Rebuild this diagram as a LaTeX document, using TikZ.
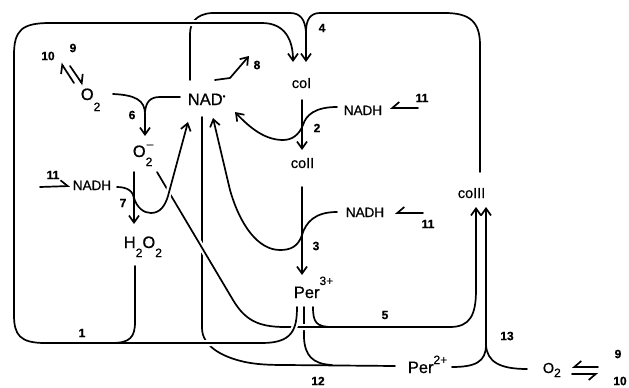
\documentclass[tikz,border=0pt]{standalone}
\usepackage{fontspec}
\setmainfont{Liberation Sans}[FakeBold=0.7]
\usetikzlibrary{arrows.meta}
\newcommand\dsub[2][-9pt]{\raisebox{#1}{\fontsize{12}{12}\selectfont #2}}
\newcommand\dsup[2][10pt]{\raisebox{#1}{\fontsize{12}{12}\selectfont #2}}
\begin{document}
\begin{tikzpicture}[x=1pt,y=-1pt,line width=1.7pt,line cap=round,line join=round,
  big/.style={inner sep=0pt,anchor=base west,font=\fontsize{16.5}{16}\selectfont},
  mid/.style={inner sep=0pt,anchor=base west,font=\fontsize{14.5}{14}\selectfont},
  sml/.style={inner sep=0pt,anchor=base west,font=\fontsize{13.5}{13}\selectfont},
  num/.style={inner sep=0pt,font=\fontsize{12}{12}\selectfont\bfseries},
  tip/.style={-{Straight Barb[length=7pt,width=10pt]}},
  hl/.style={-{Straight Barb[left,length=7pt,width=12pt]}},
  hr/.style={-{Straight Barb[right,length=7pt,width=12pt]}},
  gap/.style={preaction={draw,white,line width=6pt,arrows=-}}]
\useasboundingbox (0,0) rectangle (629,388);
% species
\node[mid] (coI) at (291,88) {coI};
\node[mid] (coII) at (290,168) {coII};
\node[mid] (coIII) at (457,198) {coIII};
\node[big] (nad) at (187,105) {NAD\raisebox{6pt}{\fontsize{8}{8}\selectfont •}};
\node[big] (o2a) at (80,100) {O\dsub[-11pt]{2}};
\node[big] (o2m) at (132,157) {O\rlap{\dsup[9pt]{\kern1pt –}}\dsub[-9pt]{2}};
\node[sml] (nadh1) at (72,190) {NADH};
\node[sml] (nadh2) at (343,115) {NADH};
\node[sml] (nadh3) at (345,217) {NADH};
\node[big] (h2o2) at (123,248) {H\dsub{2}O\dsub{2}};
\node[big] (per3) at (293,298) {Per\dsup[13pt]{3+}};
\node[big] (per2) at (407,373) {Per\dsup[9pt]{2+}};
\node[mid] (o2b) at (542,373) {O\dsub[-4pt]{2}};
% labels
\node[num] (l1) at (82,333) {1};
\node[num] (l2) at (317,128) {2};
\node[num] (l3) at (316,246) {3};
\node[num] (l4) at (322,28) {4};
\node[num] (l5) at (385,315) {5};
\node[num] (l6) at (132,115) {6};
\node[num] (l7) at (123,203) {7};
\node[num] (l8) at (257,65) {8};
\node[num] (l9a) at (73,48) {9};
\node[num] (l10a) at (48,56) {10};
\node[num] (l11a) at (53,175) {11};
\node[num] (l11b) at (422,98) {11};
\node[num] (l11c) at (428,224) {11};
\node[num] (l12) at (318,381) {12};
\node[num] (l13) at (507,336) {13};
\node[num] (l9b) at (618,354) {9};
\node[num] (l10b) at (620,381) {10};
% 4: coIII -> coI, NAD branch
\draw[tip] (480,172) -- (480,45) .. controls (480,22) and (470,13) .. (445,13) -- (320,13) .. controls (310,13) and (306,20) .. (306,32) -- (306,62);
\draw (190,80) -- (190,34) .. controls (190,24) and (195,14) .. (212,13) -- (290,13) .. controls (300,13) and (305,19) .. (306,32);
% 12
\draw (202,117) -- (202,328) .. controls (202,346) and (222,357) .. (245,362) .. controls (255,364) and (265,365) .. (285,365) -- (395,366);
\draw (304,307) -- (304,338) .. controls (305,355) and (312,364) .. (332,365);
% 5
\draw[tip,gap] (157,172) -- (233,300) .. controls (245,320) and (258,327) .. (285,327) -- (450,327) .. controls (470,327) and (476,315) .. (476,290) -- (476,207);
\draw (313,307) .. controls (313,322) and (316,327) .. (332,327);
% 7
\draw[white,line width=6pt] (166,203) -- (173,175);
\draw[tip] (134,198) .. controls (137,208) and (144,213) .. (151,213) .. controls (160,213) and (165,206) .. (168,196) -- (188,122);
\draw (134,172) -- (134,200);
\draw[tip] (117,187) .. controls (127,187) and (134,191) .. (134,200) -- (134,224);
% 6
\draw[tip] (113,94) .. controls (135,95) and (145,100) .. (145,114) -- (145,136);
\draw (180,97) -- (160,97) .. controls (150,97) and (146,102) .. (145,112);
% 1
\draw[tip,gap] (297,307) .. controls (297,330) and (292,343) .. (262,343) -- (45,343) .. controls (20,343) and (14,335) .. (14,315) -- (14,55) .. controls (14,30) and (22,23) .. (50,23) -- (262,23) .. controls (285,23) and (293,40) .. (293,62);
\draw (135,266) -- (135,322) .. controls (135,337) and (130,343) .. (112,343);
% 2
\draw[tip] (337,107) .. controls (315,107) and (306,115) .. (303,125) .. controls (299,135) and (292,140) .. (283,140) .. controls (265,140) and (250,128) .. (235,112);
\draw[tip] (302,100) -- (302,150);
% 3
\draw[tip] (337,212) .. controls (315,212) and (306,222) .. (302,235) .. controls (298,247) and (290,250) .. (280,250) .. controls (258,250) and (240,225) .. (230,190) -- (213,118);
\draw[tip] (302,187) -- (302,275);
% 13
\draw[tip] (452,367) .. controls (475,367) and (486,362) .. (486,345) -- (486,207);
\draw (527,369) .. controls (500,369) and (487,362) .. (486,345);
% 8
\draw[tip] (215,80) -- (230,78) -- (249,56);
% 11
\draw[hl] (40,187) -- (70,186);
\draw[hr] (418,108) -- (390,108);
\draw[hr] (423,213) -- (395,213);
% 9/10
\draw[hl] (74,83) -- (61,63);
\draw[hl] (70,66) -- (83,85);
\draw[hr] (598,367) -- (572,367);
\draw[hr] (572,374) -- (598,374);
\end{tikzpicture}
\end{document}
